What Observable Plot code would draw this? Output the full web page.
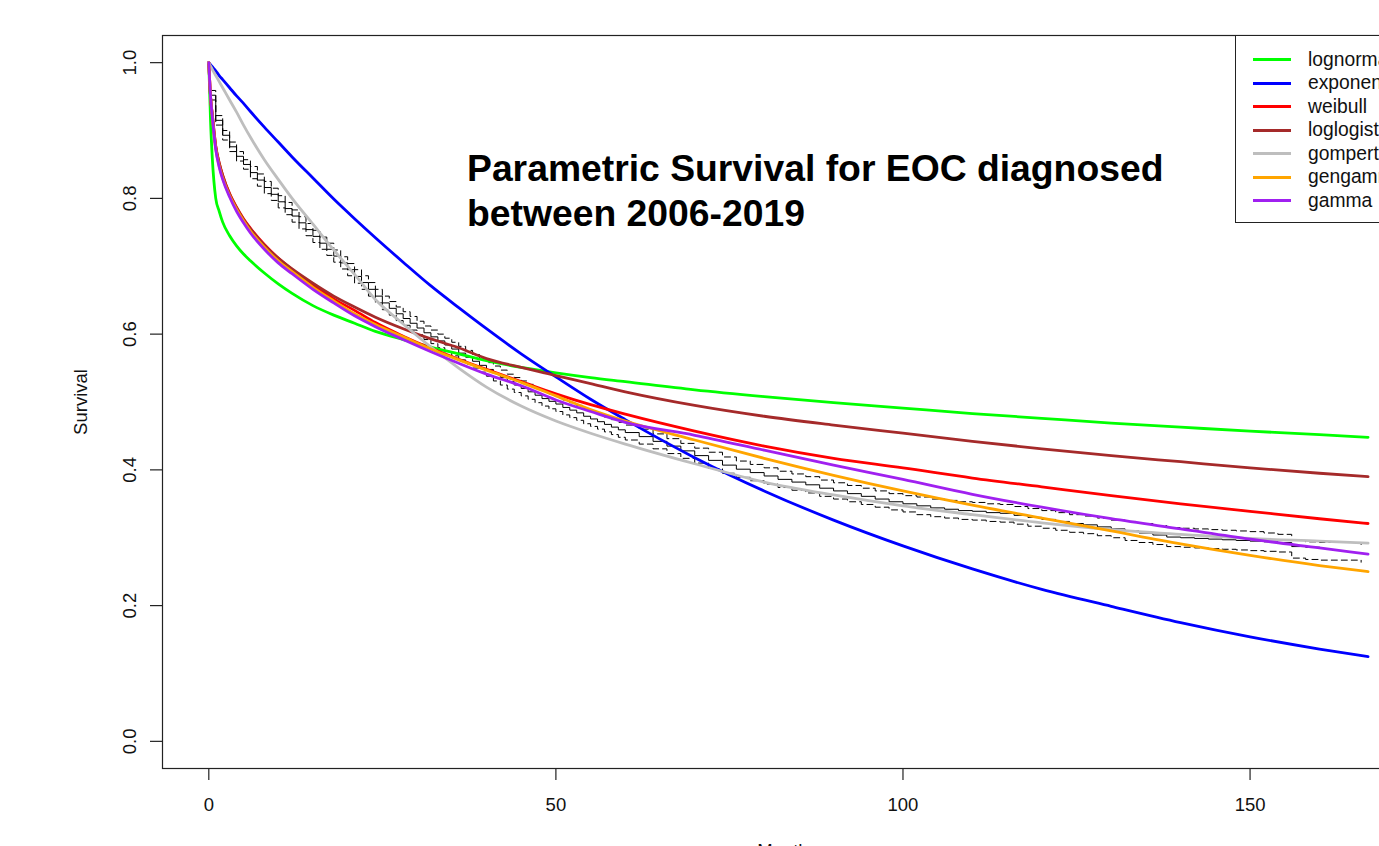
<!DOCTYPE html>
<html>
<head>
<meta charset="utf-8">
<script src="https://cdn.jsdelivr.net/npm/d3@7"></script>
<script src="https://cdn.jsdelivr.net/npm/@observablehq/plot@0.6"></script>
<style>
html, body { margin: 0; padding: 0; background: #fff; overflow: hidden; width: 1379px; height: 846px; }
#wrap { position: relative; width: 1379px; height: 846px; overflow: hidden; font-family: "Liberation Sans", Arial, sans-serif; background: #fff; }
#wrap svg { position: absolute; left: 0; top: 0; max-width: none !important; width: 1413px !important; height: 846px !important; }
#title { position: absolute; left: 467px; top: 146px; font-size: 37.3px; font-weight: bold; line-height: 45px; color: #000; white-space: nowrap; }
#legend { position: absolute; left: 1235px; top: 35px; width: 240px; height: 188px; border: 1px solid #222; background: #fff; box-sizing: border-box; }
.lrow { position: absolute; left: 0; height: 24px; display: flex; align-items: center; white-space: nowrap; font-size: 19.3px; color: #111; }
.lsw { display: inline-block; width: 38px; height: 3px; margin-left: 17px; margin-right: 17px; }
</style>
</head>
<body>
<div id="wrap">
  <div id="title">Parametric Survival for EOC diagnosed<br>between 2006-2019</div>
  <div id="legend"></div>
</div>
<script>
// ---------- data ----------
const seriesNames  = ["lognormal", "exponential", "weibull", "loglogistic", "gompertz", "gengamma", "gamma"];
const seriesColors = ["#00FF00", "#0000FF", "#FF0000", "#A52A2A", "#BEBEBE", "#FFA500", "#A020F0"];

const xTicks = [0, 50, 100, 150];
const yTicks = [0.0, 0.2, 0.4, 0.6, 0.8, 1.0];
const yTickLabels = ["0.0", "0.2", "0.4", "0.6", "0.8", "1.0"];

// months at which the fitted curves were read
const months = [0, 0.25, 0.5, 1, 1.5, 2, 3, 4, 5, 6, 8, 10, 12, 15, 18, 21, 24, 28, 32, 36, 40, 45, 50, 55, 60, 70, 80, 90, 100, 110, 120, 130, 140, 150, 160, 167];

const lognormal   = [1, 0.915, 0.86, 0.80, 0.781, 0.765, 0.745, 0.73, 0.718, 0.708, 0.69, 0.674, 0.66, 0.642, 0.628, 0.616, 0.604, 0.592, 0.581, 0.571, 0.561, 0.551, 0.543, 0.536, 0.53, 0.518, 0.508, 0.499, 0.491, 0.483, 0.476, 0.469, 0.463, 0.457, 0.452, 0.448];
const exponential = [1, 0.997, 0.994, 0.988, 0.981, 0.975, 0.963, 0.951, 0.940, 0.928, 0.905, 0.883, 0.861, 0.830, 0.799, 0.770, 0.742, 0.706, 0.671, 0.639, 0.608, 0.571, 0.537, 0.504, 0.474, 0.418, 0.369, 0.326, 0.288, 0.254, 0.224, 0.199, 0.175, 0.154, 0.136, 0.125];
const weibull     = [1, 0.95, 0.924, 0.877, 0.852, 0.834, 0.807, 0.787, 0.770, 0.756, 0.732, 0.712, 0.695, 0.672, 0.652, 0.635, 0.617, 0.597, 0.579, 0.563, 0.548, 0.530, 0.512, 0.496, 0.482, 0.457, 0.435, 0.417, 0.403, 0.388, 0.375, 0.362, 0.350, 0.339, 0.328, 0.321];
const loglogistic = [1, 0.95, 0.924, 0.877, 0.852, 0.834, 0.806, 0.786, 0.769, 0.755, 0.731, 0.712, 0.696, 0.675, 0.656, 0.640, 0.625, 0.608, 0.593, 0.580, 0.564, 0.551, 0.539, 0.527, 0.515, 0.495, 0.479, 0.466, 0.454, 0.442, 0.431, 0.421, 0.412, 0.403, 0.395, 0.390];
const gompertz    = [1, 0.995, 0.99, 0.981, 0.972, 0.963, 0.945, 0.927, 0.908, 0.890, 0.857, 0.828, 0.800, 0.762, 0.724, 0.688, 0.651, 0.615, 0.581, 0.550, 0.522, 0.494, 0.472, 0.454, 0.438, 0.409, 0.382, 0.363, 0.347, 0.334, 0.322, 0.312, 0.305, 0.299, 0.295, 0.292];
const gengamma    = [1, 0.95, 0.92, 0.873, 0.848, 0.830, 0.804, 0.784, 0.767, 0.752, 0.728, 0.708, 0.692, 0.669, 0.649, 0.630, 0.614, 0.596, 0.578, 0.562, 0.547, 0.529, 0.509, 0.489, 0.472, 0.444, 0.417, 0.392, 0.369, 0.348, 0.329, 0.310, 0.291, 0.274, 0.259, 0.250];
const gamma       = [1, 0.95, 0.92, 0.872, 0.846, 0.828, 0.802, 0.781, 0.764, 0.749, 0.725, 0.705, 0.689, 0.666, 0.646, 0.627, 0.611, 0.592, 0.574, 0.557, 0.541, 0.524, 0.503, 0.486, 0.470, 0.451, 0.429, 0.407, 0.386, 0.364, 0.345, 0.328, 0.313, 0.298, 0.285, 0.276];

// Kaplan-Meier estimate (step function) and its confidence limits
const kmMonths = [0, 0.1, 1, 2, 3, 4, 5, 6, 7, 8, 9, 10, 11, 12, 13, 14, 15, 16, 17, 18, 19, 20,
  21, 22, 23, 24, 25, 26, 27, 28, 29, 30, 31, 32, 33, 34, 35, 36, 37, 38, 39, 40,
  41, 42, 43, 44, 45, 46, 47, 48, 49, 50, 51, 52, 53, 54, 55, 56, 57, 58, 59, 60,
  62, 64, 66, 68, 70, 72, 74, 76, 78, 80, 82, 84, 86, 88, 90, 92, 94, 96, 98, 100,
  102, 104, 106, 108, 110, 112, 114, 116, 118, 120, 122, 124, 126, 128, 130,
  132, 134, 136, 138, 140, 142, 144, 146, 148, 150, 152, 154, 156, 158, 160];
const kmSurv = [1.000, 0.952, 0.915, 0.893, 0.876, 0.862, 0.850, 0.838, 0.827, 0.816, 0.806, 0.795, 0.785, 0.774, 0.764, 0.754, 0.744, 0.734, 0.725, 0.715, 0.705, 0.695,
  0.685, 0.676, 0.666, 0.656, 0.646, 0.638, 0.630, 0.623, 0.616, 0.609, 0.602, 0.596, 0.590, 0.584, 0.578, 0.572, 0.566, 0.560, 0.554, 0.548,
  0.542, 0.536, 0.530, 0.525, 0.520, 0.515, 0.510, 0.505, 0.501, 0.497, 0.492, 0.488, 0.484, 0.479, 0.475, 0.471, 0.467, 0.463, 0.459, 0.455,
  0.449, 0.442, 0.435, 0.428, 0.421, 0.414, 0.407, 0.401, 0.396, 0.391, 0.386, 0.382, 0.378, 0.373, 0.369, 0.365, 0.361, 0.357, 0.353, 0.350,
  0.347, 0.344, 0.342, 0.340, 0.339, 0.337, 0.336, 0.333, 0.330, 0.327, 0.324, 0.321, 0.319, 0.316, 0.313,
  0.310, 0.307, 0.304, 0.301, 0.300, 0.299, 0.298, 0.297, 0.296, 0.295, 0.294, 0.293, 0.287, 0.286, 0.286];
const ciMonths = [...kmMonths, 166];
const kmUpper = [1.000, 0.959, 0.922, 0.900, 0.883, 0.869, 0.857, 0.847, 0.836, 0.825, 0.815, 0.804, 0.794, 0.783, 0.773, 0.763, 0.753, 0.743, 0.734, 0.724, 0.714, 0.704,
  0.695, 0.686, 0.676, 0.666, 0.656, 0.648, 0.640, 0.633, 0.626, 0.619, 0.612, 0.606, 0.600, 0.594, 0.588, 0.582, 0.576, 0.570, 0.564, 0.558,
  0.553, 0.547, 0.541, 0.536, 0.531, 0.526, 0.521, 0.516, 0.512, 0.508, 0.503, 0.499, 0.495, 0.490, 0.486, 0.482, 0.478, 0.474, 0.470, 0.466,
  0.460, 0.453, 0.446, 0.439, 0.432, 0.426, 0.419, 0.413, 0.408, 0.403, 0.398, 0.394, 0.390, 0.385, 0.381, 0.377, 0.373, 0.369, 0.365, 0.362,
  0.360, 0.357, 0.355, 0.353, 0.352, 0.350, 0.349, 0.346, 0.343, 0.340, 0.337, 0.334, 0.332, 0.329, 0.326,
  0.324, 0.321, 0.318, 0.315, 0.314, 0.313, 0.312, 0.311, 0.310, 0.309, 0.307, 0.305, 0.296, 0.294, 0.293, 0.290];
const kmLower = [1.000, 0.945, 0.908, 0.886, 0.869, 0.855, 0.843, 0.829, 0.818, 0.807, 0.797, 0.786, 0.776, 0.765, 0.755, 0.745, 0.735, 0.725, 0.716, 0.706, 0.696, 0.686,
  0.675, 0.666, 0.656, 0.646, 0.636, 0.628, 0.620, 0.613, 0.606, 0.599, 0.592, 0.586, 0.580, 0.574, 0.568, 0.562, 0.556, 0.550, 0.544, 0.538,
  0.531, 0.525, 0.519, 0.514, 0.509, 0.504, 0.499, 0.494, 0.490, 0.486, 0.481, 0.477, 0.473, 0.468, 0.464, 0.460, 0.456, 0.452, 0.448, 0.444,
  0.438, 0.431, 0.424, 0.417, 0.410, 0.402, 0.395, 0.389, 0.384, 0.379, 0.374, 0.370, 0.366, 0.361, 0.357, 0.353, 0.349, 0.345, 0.341, 0.338,
  0.334, 0.331, 0.329, 0.327, 0.326, 0.324, 0.323, 0.320, 0.317, 0.314, 0.311, 0.308, 0.306, 0.303, 0.300,
  0.296, 0.293, 0.290, 0.287, 0.286, 0.285, 0.284, 0.283, 0.282, 0.281, 0.280, 0.279, 0.270, 0.268, 0.267, 0.264];

// ---------- build tables ----------
const seriesValues = [lognormal, exponential, weibull, loglogistic, gompertz, gengamma, gamma];
const curves = seriesNames.flatMap((name, k) => months.map((m, i) => ({series: name, m, s: seriesValues[k][i]})));
const km = kmMonths.map((m, i) => ({m, s: kmSurv[i]}));
const upper = ciMonths.map((m, i) => ({m, s: kmUpper[i]}));
const lower = ciMonths.map((m, i) => ({m, s: kmLower[i]}));
const yLabelRows = yTicks.map((v, i) => ({v, label: yTickLabels[i]}));

const font = "Liberation Sans, Arial, Helvetica, sans-serif";

const chart = Plot.plot({
  width: 1413,
  height: 846,
  marginLeft: 162,
  marginRight: 1,
  marginTop: 35,
  marginBottom: 78,
  x: {domain: [-6.67, 173.4]},
  y: {domain: [-0.04, 1.04]},
  color: {domain: seriesNames, range: seriesColors},
  style: {fontFamily: font, fontSize: "18px", background: "white", color: "#111", overflow: "visible", maxWidth: "none"},
  marks: [
    Plot.axisX({ticks: xTicks, tickSize: 12, tickPadding: 17, label: null, fontSize: 18.5, stroke: "#222", strokeWidth: 1.2}),
    Plot.axisY({ticks: yTicks, tickSize: 12, tickFormat: () => "", label: null, stroke: "#222", strokeWidth: 1.2}),
    Plot.text(yLabelRows, {y: "v", text: "label", frameAnchor: "left", dx: -27, rotate: -90, textAnchor: "middle", lineAnchor: "bottom", fontSize: 18.5, fill: "#111"}),
    Plot.text(["Survival"], {text: d => d, frameAnchor: "left", dx: -76, rotate: -90, textAnchor: "middle", lineAnchor: "bottom", fontSize: 18.5, fill: "#111"}),
    Plot.text(["Months"], {text: d => d, frameAnchor: "bottom", dy: 75, textAnchor: "middle", lineAnchor: "top", fontSize: 18.5, fill: "#111"}),
    Plot.line(upper, {x: "m", y: "s", curve: "step-after", stroke: "#000", strokeWidth: 1, strokeDasharray: "6,4"}),
    Plot.line(lower, {x: "m", y: "s", curve: "step-after", stroke: "#000", strokeWidth: 1, strokeDasharray: "6,4"}),
    Plot.line(km, {x: "m", y: "s", curve: "step-after", stroke: "#000", strokeWidth: 1}),
    Plot.line(curves, {x: "m", y: "s", z: "series", stroke: "series", curve: "monotone-x", strokeWidth: 2.8}),
    Plot.frame({stroke: "#222", strokeWidth: 1.2})
  ]
});
const wrap = document.getElementById("wrap");
wrap.insertBefore(chart, wrap.firstChild);

// legend
const legend = document.getElementById("legend");
seriesNames.forEach((name, i) => {
  const row = document.createElement("div");
  row.className = "lrow";
  row.style.top = (11.5 + 23.5 * i) + "px";
  const sw = document.createElement("span");
  sw.className = "lsw";
  sw.style.background = seriesColors[i];
  const tx = document.createElement("span");
  tx.textContent = name;
  row.appendChild(sw);
  row.appendChild(tx);
  legend.appendChild(row);
});
</script>
</body>
</html>
